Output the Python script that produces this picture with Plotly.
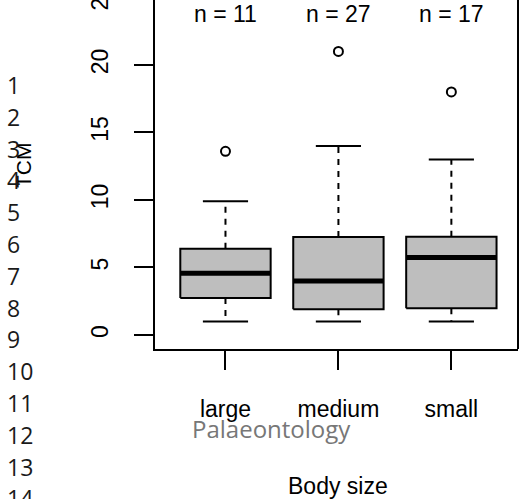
import plotly.graph_objects as go

# ---- data ----
categories = ["large", "medium", "small"]
counts = [11, 27, 17]
lower_whisker = [1, 1, 1]
q1 = [2.74, 1.9, 1.97]
median = [4.57, 4.0, 5.73]
q3 = [6.39, 7.26, 7.27]
upper_whisker = [9.9, 14, 13]
outliers = [13.6, 21, 18]
y_ticks = [0, 5, 10, 15, 20]
line_numbers = list(range(1, 15))

W, H = 520, 499
ML, MR, MT, MB = 155, 2, 0, 150
PW = W - ML - MR
PH = H - MT - MB

FONT = "Liberation Sans, Arial, Helvetica, sans-serif"
half = 0.4
cap = 0.2

pos = [i + 1 for i in range(len(categories))]

bx, by, mx, my, wx, wy, cx, cy = [], [], [], [], [], [], [], []
for i, p in enumerate(pos):
    bx += [p - half, p + half, p + half, p - half, p - half, None]
    by += [q1[i], q1[i], q3[i], q3[i], q1[i], None]
    mx += [p - half, p + half, None]
    my += [median[i], median[i], None]
    wx += [p, p, None, p, p, None]
    wy += [q3[i], upper_whisker[i], None, q1[i], lower_whisker[i], None]
    cx += [p - cap, p + cap, None, p - cap, p + cap, None]
    cy += [upper_whisker[i], upper_whisker[i], None, lower_whisker[i], lower_whisker[i], None]

fig = go.Figure()
fig.add_trace(go.Scatter(x=wx, y=wy, mode="lines", line=dict(color="black", width=2, dash="6px,6px"),
                         hoverinfo="skip", showlegend=False))
fig.add_trace(go.Scatter(x=cx, y=cy, mode="lines", line=dict(color="black", width=2),
                         hoverinfo="skip", showlegend=False))
fig.add_trace(go.Scatter(x=bx, y=by, mode="lines", fill="toself", fillcolor="#bebebe",
                         line=dict(color="black", width=2), hoverinfo="skip", showlegend=False))
fig.add_trace(go.Scatter(x=mx, y=my, mode="lines", line=dict(color="black", width=5),
                         hoverinfo="skip", showlegend=False))
fig.add_trace(go.Scatter(x=pos, y=outliers, mode="markers",
                         marker=dict(symbol="circle-open", size=9, color="black", line=dict(width=2)),
                         hoverinfo="skip", showlegend=False))

annotations = []
for i, p in enumerate(pos):
    annotations.append(dict(x=p, y=23.8, xref="x", yref="y", text=f"n = {counts[i]}",
                            showarrow=False, font=dict(family=FONT, size=23, color="black"),
                            xanchor="center", yanchor="middle"))

# partially visible top tick label (value 25 lies just above the visible area)
annotations.append(dict(x=(100 - ML) / PW, y=1 + 2.5 / PH, xref="paper", yref="paper", text="25",
                        textangle=-90, showarrow=False, font=dict(family=FONT, size=23, color="black"),
                        xanchor="center", yanchor="middle"))
annotations.append(dict(x=(24 - ML) / PW, y=1 - 165 / PH, xref="paper", yref="paper", text="TCM",
                        textangle=-90, showarrow=False, font=dict(family=FONT, size=21, color="black"),
                        xanchor="center", yanchor="middle"))
annotations.append(dict(x=(338 - ML) / PW, y=(PH - 486) / PH, xref="paper", yref="paper",
                        text="Body size", showarrow=False, font=dict(family=FONT, size=23, color="black"),
                        xanchor="center", yanchor="middle"))
annotations.append(dict(x=(271 - ML) / PW, y=(PH - 428) / PH, xref="paper", yref="paper",
                        text="Palaeontology", showarrow=False,
                        font=dict(family="Open Sans, Noto Sans, sans-serif", size=24, color="#777777"),
                        xanchor="center", yanchor="middle"))
for k in line_numbers:
    ypix = 85 + 31.8 * (k - 1)
    annotations.append(dict(x=(5 - ML) / PW, y=(PH - ypix) / PH, xref="paper", yref="paper",
                            text=str(k), showarrow=False,
                            font=dict(family="Open Sans, Noto Sans, sans-serif", size=23, color="#1a1a1a"),
                            xanchor="left", yanchor="middle"))

fig.update_layout(
    width=W, height=H,
    margin=dict(l=ML, r=MR, t=MT, b=MB, pad=0),
    paper_bgcolor="white", plot_bgcolor="white",
    showlegend=False,
    annotations=annotations,
    shapes=[dict(type="line", xref="paper", yref="paper", x0=1, x1=1, y0=0, y1=1,
                 line=dict(color="black", width=2))],
    xaxis=dict(range=[0.376, 3.59], tickmode="array", tickvals=pos, ticktext=categories,
               showgrid=False, zeroline=False, showline=True, linecolor="black", linewidth=2,
               ticks="outside", ticklen=19, tickwidth=2, tickcolor="black",
               tickfont=dict(family=FONT, size=23, color="black"), ticklabelstandoff=19),
    yaxis=dict(range=[-1.04, 24.81], tickmode="array", tickvals=y_ticks,
               ticktext=[str(v) for v in y_ticks], tickangle=-90,
               showgrid=False, zeroline=False, showline=True, linecolor="black", linewidth=2,
               ticks="outside", ticklen=19, tickwidth=2, tickcolor="black",
               tickfont=dict(family=FONT, size=23, color="black"), ticklabelstandoff=17),
)

fig.write_html("out.html", config={"displayModeBar": False},
               post_script="document.body.style.margin='0px';document.body.style.overflow='hidden';")
